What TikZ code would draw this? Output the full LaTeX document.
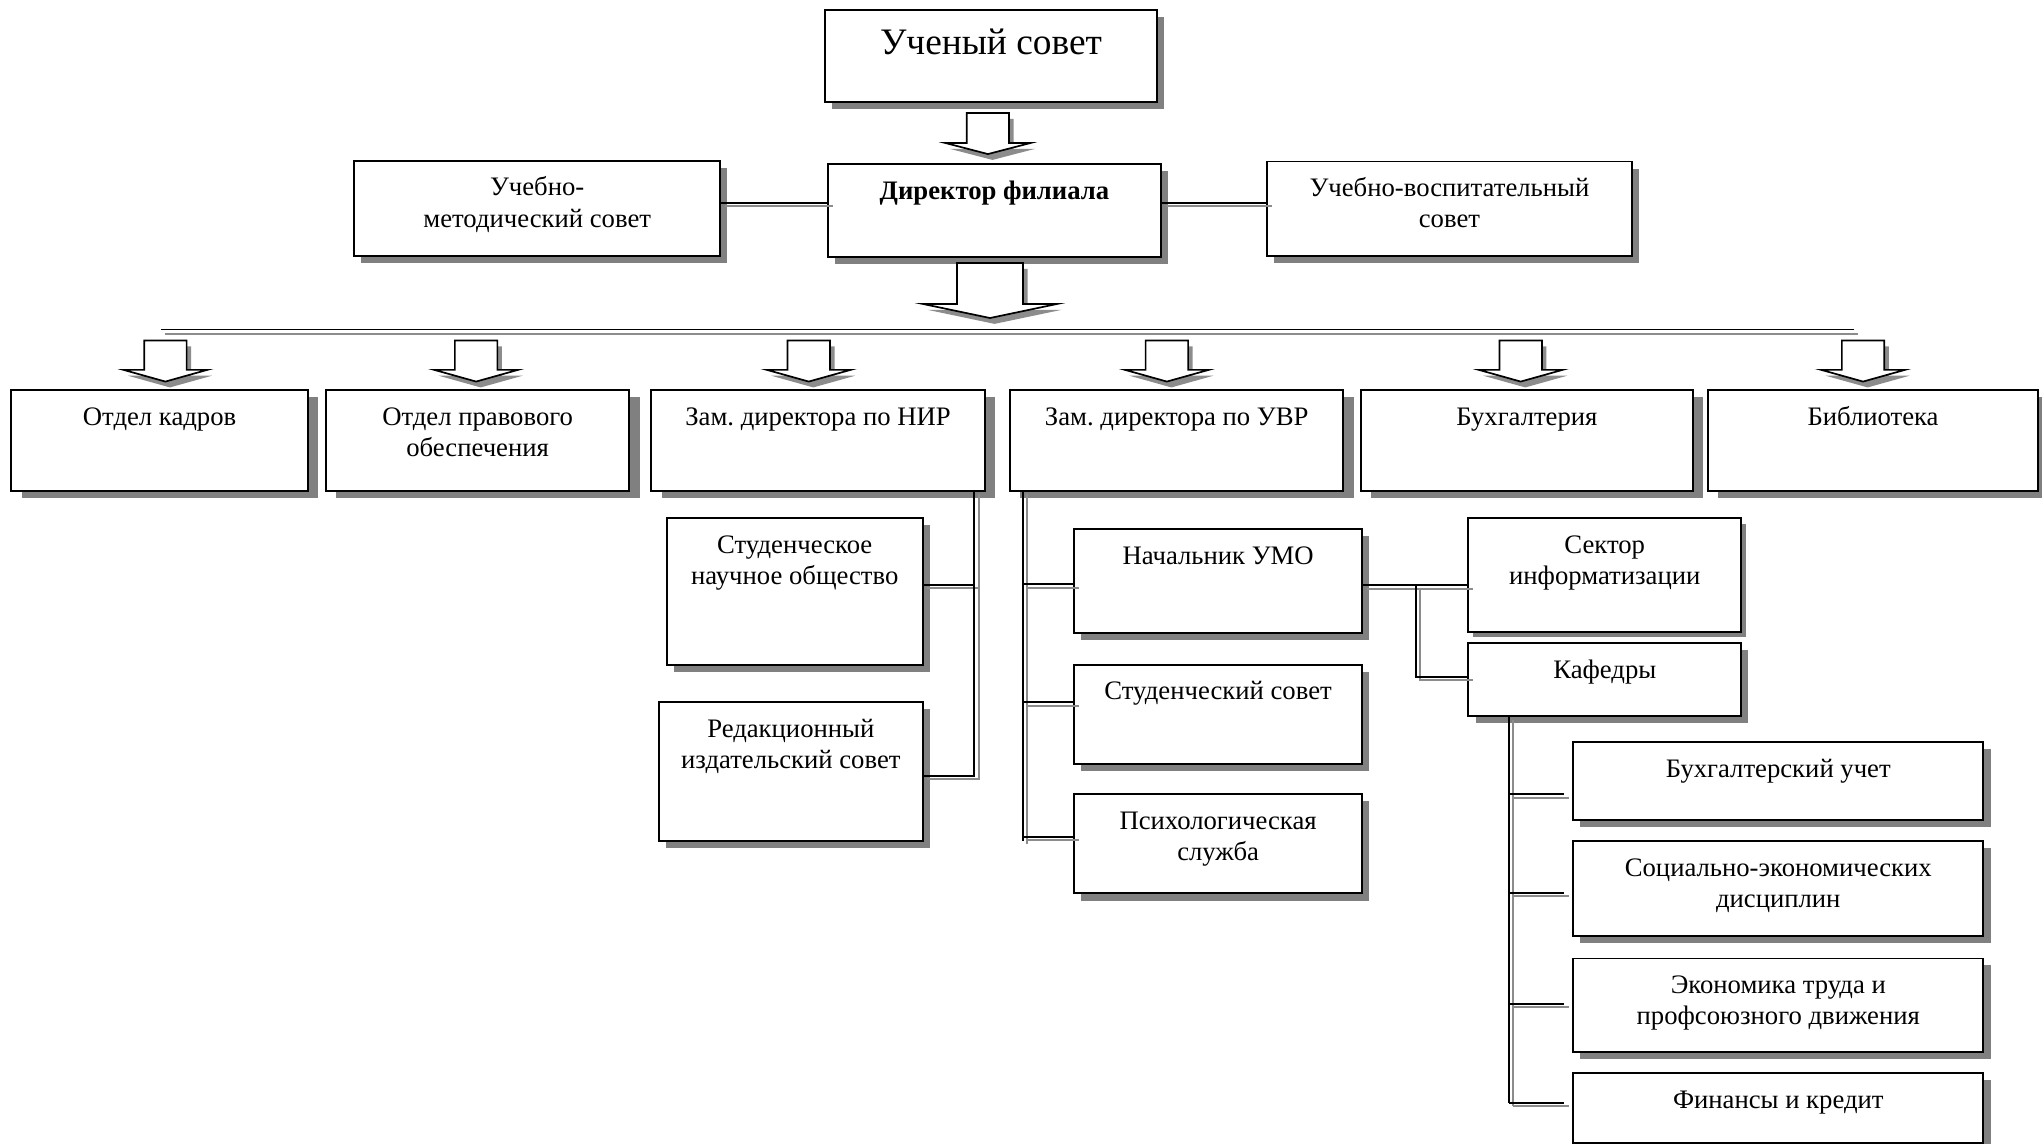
\documentclass[tikz,border=0pt]{standalone}
\usepackage{fontspec}
\setmainfont{Liberation Serif}
\usetikzlibrary{calc}
\frenchspacing
\definecolor{shd}{RGB}{128,128,128}
\definecolor{ashd}{RGB}{140,140,140}
\definecolor{gln}{RGB}{140,140,140}
\tikzset{
  boxst/.style={draw=black, line width=1.5pt, fill=white, inner sep=0pt, outer sep=0pt},
  txtst/.style={inner sep=0pt, outer sep=0pt, align=center, font=\fontsize{20.5}{24}\selectfont},
  blin/.style={draw=black, line width=1.5pt},
  glin/.style={draw=gln, line width=1.5pt},
  arrst/.style={draw=black, fill=white, line width=1.3pt, line join=miter},
}
\def\shx{5.5}
\def\shy{5.5}
% [text style]{name}{x1}{y1}{x2}{y2}{text}
\newcommand{\orgbox}[7][]{%
  \fill[shd] (#3+\shx,#4+\shy) rectangle (#5+\shx,#6+\shy);
  \node[boxst, anchor=north west, minimum width={(#5)-(#3)}, minimum height={(#6)-(#4)}] (#2) at (#3,#4) {};
  \node[txtst, anchor=north, #1] (#2t) at ($(#2.north)+(0,10.2)$) {\strut #7};
}
% {cx}{ytop}{ywing}{ytip}{shaft half}{head half}
\newcommand{\blockarrow}[6]{%
  \fill[ashd] (#1-#5+3.5,#2+4.5) -- (#1+#5+3.5,#2+4.5) -- (#1+#5+3.5,#3+4.5) -- (#1+#6+3.5,#3+4.5) -- (#1+3.5,#4+4.5) -- (#1-#6+3.5,#3+4.5) -- (#1-#5+3.5,#3+4.5) -- cycle;
  \draw[arrst] (#1-#5,#2) -- (#1+#5,#2) -- (#1+#5,#3) -- (#1+#6,#3) -- (#1,#4) -- (#1-#6,#3) -- (#1-#5,#3) -- cycle;
}
\newcommand{\dconnxy}[3]{%
  \draw[glin, transform canvas={xshift=#1, yshift=#2}] #3;
  \draw[blin] #3;
}
\newcommand{\dconn}[1]{\dconnxy{3.5pt}{-2.5pt}{#1}}
\begin{document}
\begin{tikzpicture}[x=1pt, y=-1pt]
\fill[white] (0,0) rectangle (1568,878);
\useasboundingbox (0,0) rectangle (1568,878);

% top
\orgbox[font=\fontsize{28.7}{34}\selectfont]{uch}{633.5}{7.7}{888.4}{78.3}{Ученый совет}
\orgbox{ums}{272}{123.5}{553}{196.5}{Учебно-\\методический совет}
\orgbox[font=\fontsize{20.5}{24}\selectfont\bfseries]{dir}{635.8}{126}{891.5}{197.3}{Директор филиала}
\orgbox{uvs}{973}{124}{1253}{196.5}{Учебно-воспитательный\\совет}

% row
\def\shx{8}
\orgbox{ok}{8.6}{299.5}{236.5}{377}{Отдел кадров}
\orgbox{opo}{250.2}{299.5}{483.3}{377}{Отдел правового\\обеспечения}
\orgbox{nir}{500}{299.5}{756.3}{377}{Зам. директора по НИР}
\orgbox{uvr}{775.6}{299.5}{1031.6}{377}{Зам. директора по УВР}
\orgbox{buh}{1045}{299.5}{1300}{377}{Бухгалтерия}
\orgbox{bib}{1311.5}{299.5}{1565}{377}{Библиотека}
\def\shx{5.5}

% NIR children
\orgbox{sno}{512}{398}{708.5}{510.5}{Студенческое\\научное общество}
\orgbox{red}{506}{539}{708.5}{645.5}{Редакционный\\издательский совет}

% UVR children
\orgbox{nach}{824.7}{406.2}{1046}{486}{Начальник УМО}
\orgbox{stsov}{824.7}{510.3}{1046}{586.7}{Студенческий совет}
\orgbox{psy}{824.7}{609.7}{1046}{686}{Психологическая\\служба}

% UMO children
\def\shx{3.5}\def\shy{4}
\orgbox{sek}{1127.5}{398}{1337}{485}{Сектор\\информатизации}
\def\shx{5.5}\def\shy{5}
\orgbox{kaf}{1127.5}{494}{1337}{550}{Кафедры}

% departments
\orgbox{bu}{1208}{570}{1523}{630}{Бухгалтерский учет}
\orgbox{soc}{1208}{646}{1523}{719}{Социально-экономических\\дисциплин}
\orgbox{ek}{1208}{736}{1523}{808}{Экономика труда и\\профсоюзного движения}
\orgbox{fin}{1208}{824}{1523}{877.5}{Финансы и кредит}

% block arrows
\blockarrow{758.6}{86.8}{109.8}{118.3}{16.2}{32.7}
\blockarrow{760.2}{202}{233.4}{244.2}{25.3}{51.5}
\blockarrow{127}{261.5}{284}{293}{16.3}{32.2}
\blockarrow{365.6}{261.5}{284}{293}{16.3}{32.2}
\blockarrow{621}{261.5}{284}{293}{16.3}{32.2}
\blockarrow{896}{261.5}{284}{293}{16.3}{32.2}
\blockarrow{1167.7}{261.5}{284}{293}{16.3}{32.2}
\blockarrow{1430.6}{261.5}{284}{293}{16.3}{32.2}

% helper coordinates
\coordinate (yL) at (0,156);
\coordinate (yR) at (0,156);
\coordinate (busL) at (124,253);
\coordinate (busR) at (1423.6,253);
\coordinate (nirx) at (748,0);
\coordinate (ysno) at (0,449);
\coordinate (yred) at (0,596);
\coordinate (uvrx) at (785.3,0);
\coordinate (ynach) at (0,448.7);
\coordinate (ystsov) at (0,539.3);
\coordinate (ypsy) at (0,642.5);
\coordinate (yend) at (0,645.5);
\coordinate (ysek) at (0,449.5);
\coordinate (brx) at (1087,0);
\coordinate (ykaf) at (0,519.5);
\coordinate (kafx) at (1158.6,0);
\coordinate (ybu) at (0,610);
\coordinate (ysoc) at (0,685.7);
\coordinate (yek) at (0,771);
\coordinate (yfin) at (0,847);

% connectors
\dconn{(ums.east |- yL) -- (dir.west |- yL)}
\dconn{(dir.east |- yR) -- (uvs.west |- yR)}
\dconnxy{3pt}{-3.5pt}{(busL) -- (busR)}
\dconn{(nir.south -| nirx) |- (sno.east |- ysno)}
\dconn{(nir.south -| nirx) |- (red.east |- yred)}
\dconn{(uvr.south -| uvrx) -- (uvrx |- yend)}
\dconn{(uvrx |- ynach) -- (nach.west |- ynach)}
\dconn{(uvrx |- ystsov) -- (stsov.west |- ystsov)}
\dconn{(uvrx |- ypsy) -- (psy.west |- ypsy)}
\dconn{(nach.east |- ysek) -- (sek.west |- ysek)}
\dconn{(brx |- ysek) |- (kaf.west |- ykaf)}
\dconn{(kaf.south -| kafx) -- (kafx |- yfin)}
\dconn{(kafx |- ybu) -- ($(bu.west |- ybu)+(-7,0)$)}
\dconn{(kafx |- ysoc) -- ($(soc.west |- ysoc)+(-7,0)$)}
\dconn{(kafx |- yek) -- ($(ek.west |- yek)+(-7,0)$)}
\dconn{(kafx |- yfin) -- ($(fin.west |- yfin)+(-7,0)$)}
\end{tikzpicture}
\end{document}
